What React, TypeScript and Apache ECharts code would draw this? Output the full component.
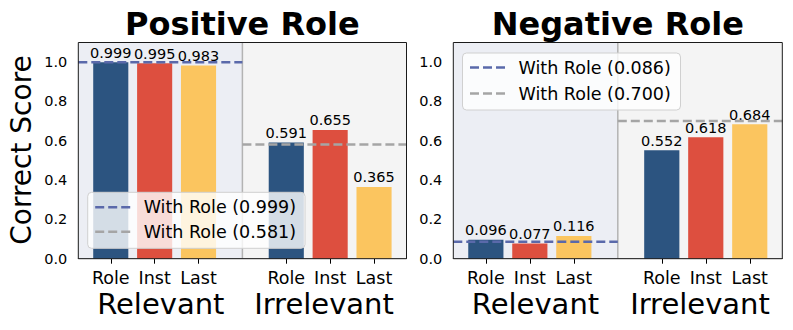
import React, { useEffect, useRef } from 'react';
import * as echarts from 'echarts';

const categories = ['Role', 'Inst', 'Last'];
const groupNames = ['Relevant', 'Irrelevant'];
const xPositions = [0, 1, 2, 4, 5, 6];
const yTicks = [0, 0.2, 0.4, 0.6, 0.8, 1.0];
const panelTitles = ['Positive Role', 'Negative Role'];

const positiveRelevant = [0.999, 0.995, 0.983];
const positiveIrrelevant = [0.591, 0.655, 0.365];
const negativeRelevant = [0.096, 0.077, 0.116];
const negativeIrrelevant = [0.552, 0.618, 0.684];
const positiveWithRole = [0.999, 0.581];
const negativeWithRole = [0.086, 0.7];

const barColors = ['#2c5480', '#dd4f3f', '#fbc55f'];
const lineColors = ['#5a69aa', '#a5a5a5'];
const FONT = 'DejaVu Sans';
const X_MIN = -0.74;
const X_MAX = 6.74;
const SPLIT = 3;
const Y_MAX = 1.1;

const grids = [
  { left: 78.3, top: 42.5, width: 328.2, height: 216.2 },
  { left: 453.3, top: 42.5, width: 329, height: 216.2 },
];
const titleCenters = [242.4, 617.8];
const groupLabelCenters = [
  [160.8, 324],
  [535.5, 700],
];
const legendBoxes = [
  { x: 87.7, y: 192.3, w: 217.3, h: 56, rows: [207.3, 231.7] },
  { x: 462.5, y: 53, w: 218, h: 57, rows: [67.5, 93.5] },
];

const panels = [
  { title: panelTitles[0], relevant: positiveRelevant, irrelevant: positiveIrrelevant, withRole: positiveWithRole },
  { title: panelTitles[1], relevant: negativeRelevant, irrelevant: negativeIrrelevant, withRole: negativeWithRole },
];

function buildOption() {
  const series: any[] = [];
  const xAxis: any[] = [];
  const yAxis: any[] = [];
  const graphic: any[] = [];

  panels.forEach((p, i) => {
    const g = grids[i];
    const barWidth = (0.8 * g.width) / (X_MAX - X_MIN);
    xAxis.push({
      type: 'value',
      gridIndex: i,
      min: X_MIN,
      max: X_MAX,
      splitLine: { show: false },
      axisLine: { show: true, lineStyle: { color: '#000', width: 1 } },
      axisTick: { show: true, customValues: xPositions, length: 5, lineStyle: { color: '#000' } },
      axisLabel: {
        customValues: xPositions,
        formatter: (v: number) => categories[xPositions.indexOf(Math.round(v)) % 3],
        fontFamily: FONT,
        fontSize: 17.5,
        lineHeight: 15,
        color: '#000',
        margin: 11.5,
      },
    });
    yAxis.push({
      type: 'value',
      gridIndex: i,
      min: 0,
      max: Y_MAX,
      interval: 0.2,
      splitLine: { show: false },
      axisLine: { show: true, lineStyle: { color: '#000', width: 1 } },
      axisTick: { show: true, customValues: yTicks, length: 5, lineStyle: { color: '#000' } },
      axisLabel: {
        customValues: yTicks,
        formatter: (v: number) => v.toFixed(1),
        fontFamily: FONT,
        fontSize: 14.5,
        color: '#000',
        margin: 11,
      },
    });

    // background shading
    series.push({
      type: 'line',
      xAxisIndex: i,
      yAxisIndex: i,
      data: [[SPLIT, 0], [SPLIT, Y_MAX]],
      symbol: 'none',
      lineStyle: { opacity: 0 },
      silent: true,
      z: 1,
      markArea: {
        silent: true,
        data: [
          [{ xAxis: X_MIN, itemStyle: { color: '#eceef4' } }, { xAxis: SPLIT }],
          [{ xAxis: SPLIT, itemStyle: { color: '#f4f4f4' } }, { xAxis: X_MAX }],
        ],
      },
    });
    // divider
    series.push({
      type: 'line',
      xAxisIndex: i,
      yAxisIndex: i,
      data: [[SPLIT, 0], [SPLIT, Y_MAX]],
      symbol: 'none',
      lineStyle: { color: '#b3b3b3', width: 1.5 },
      silent: true,
      z: 2,
    });
    // bars
    const values = [...p.relevant, ...p.irrelevant];
    series.push({
      type: 'bar',
      xAxisIndex: i,
      yAxisIndex: i,
      barWidth,
      z: 3,
      data: values.map((v, k) => ({
        value: [xPositions[k], v],
        itemStyle: { color: barColors[k % 3] },
      })),
      label: {
        show: true,
        position: 'top',
        distance: 2,
        fontFamily: FONT,
        fontSize: 14.5,
        color: '#000',
        formatter: (params: any) => params.value[1].toFixed(3),
      },
    });
    // with-role reference lines
    const ranges = [
      [X_MIN, SPLIT],
      [SPLIT, X_MAX],
    ];
    p.withRole.forEach((v, k) => {
      series.push({
        type: 'line',
        xAxisIndex: i,
        yAxisIndex: i,
        data: [[ranges[k][0], v], [ranges[k][1], v]],
        symbol: 'none',
        lineStyle: { color: lineColors[k], width: 2.5, type: [9, 4] },
        silent: true,
        z: 4,
      });
    });

    // title
    graphic.push({
      type: 'text',
      x: titleCenters[i],
      y: 24,
      z: 100,
      style: {
        text: p.title,
        fontFamily: FONT,
        fontSize: 32,
        fontWeight: 'bold',
        fill: '#000',
        textAlign: 'center',
        textVerticalAlign: 'middle',
      },
    });
    // group labels
    groupNames.forEach((name, k) => {
      graphic.push({
        type: 'text',
        x: groupLabelCenters[i][k],
        y: 303.5,
        z: 100,
        style: {
          text: name,
          fontFamily: FONT,
          fontSize: 29,
          lineHeight: 24,
          fill: '#000',
          textAlign: 'center',
          textVerticalAlign: 'middle',
        },
      });
    });
    // legend
    const lb = legendBoxes[i];
    graphic.push({
      type: 'rect',
      z: 100,
      shape: { x: lb.x, y: lb.y, width: lb.w, height: lb.h, r: 4 },
      style: { fill: 'rgba(255,255,255,0.8)', stroke: '#d0d0d0', lineWidth: 1 },
    });
    p.withRole.forEach((v, k) => {
      graphic.push({
        type: 'line',
        z: 101,
        shape: { x1: lb.x + 7.5, y1: lb.rows[k], x2: lb.x + 44, y2: lb.rows[k] },
        style: { stroke: lineColors[k], lineWidth: 2.5, lineDash: [9, 4] },
      });
      graphic.push({
        type: 'text',
        z: 101,
        x: lb.x + 56,
        y: lb.rows[k],
        style: {
          text: `With Role (${v.toFixed(3)})`,
          fontFamily: FONT,
          fontSize: 17.5,
          fill: '#000',
          textAlign: 'left',
          textVerticalAlign: 'middle',
        },
      });
    });
  });

  graphic.push({
    type: 'text',
    x: 21.5,
    y: 150,
    rotation: Math.PI / 2,
    z: 100,
    style: {
      text: 'Correct Score',
      fontFamily: FONT,
      fontSize: 28,
      fill: '#000',
      textAlign: 'center',
      textVerticalAlign: 'middle',
    },
  });

  return {
    animation: false,
    backgroundColor: '#ffffff',
    textStyle: { fontFamily: FONT },
    grid: grids.map((g) => ({
      ...g,
      show: true,
      z: 10,
      borderColor: '#1a1a1a',
      borderWidth: 1,
      backgroundColor: 'transparent',
    })),
    xAxis,
    yAxis,
    series,
    graphic,
  };
}

export default function App() {
  const ref = useRef<HTMLDivElement>(null);
  useEffect(() => {
    if (!ref.current) return;
    const chart = echarts.init(ref.current, null, { renderer: 'svg' });
    chart.setOption(buildOption() as any);
    return () => chart.dispose();
  }, []);
  return (
    <div
      ref={ref}
      style={{ position: 'fixed', left: 0, top: 0, width: 793, height: 330, background: '#fff' }}
    />
  );
}
